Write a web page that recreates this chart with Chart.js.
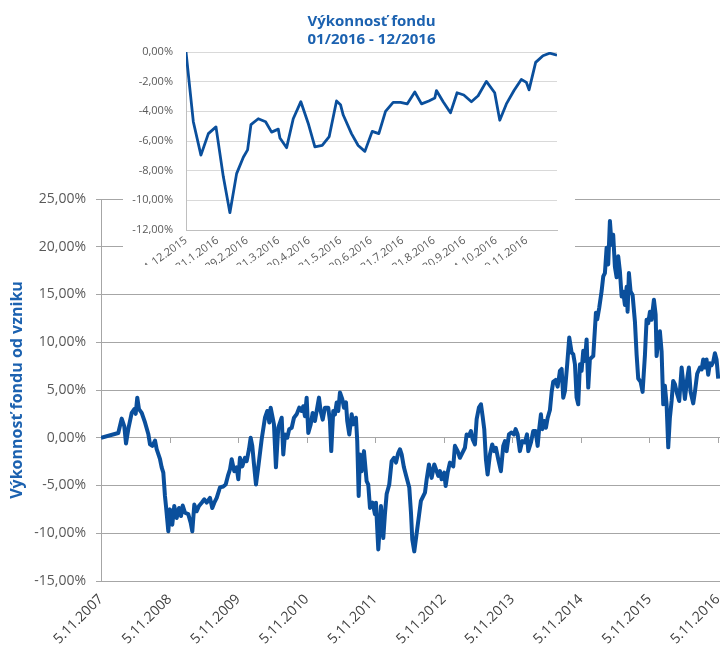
<!DOCTYPE html>
<html>
<head>
<meta charset="utf-8">
<script src="https://cdn.jsdelivr.net/npm/chart.js@4.4.1/dist/chart.umd.min.js"></script>
<style>
  html, body { margin: 0; padding: 0; background: #fff; }
  #wrap { position: relative; width: 720px; height: 649px; overflow: hidden; }
  #mainChart { position: absolute; left: 0; top: 0; }
  #insetChart { position: absolute; left: 123px; top: 0; background: #fff; }
</style>
</head>
<body>
<div id="wrap">
  <canvas id="mainChart" width="720" height="649"></canvas>
  <canvas id="insetChart" width="452" height="265"></canvas>
</div>
<script>
// Main chart: years since 5.11.2007 and performance in %
const mainYears = [
  0, 0.252, 0.302, 0.340, 0.365, 0.398, 0.448, 0.486, 0.506, 0.529, 0.554, 0.594, 0.642, 0.690, 0.715,
  0.748, 0.788, 0.812, 0.861, 0.885, 0.909, 0.933, 0.948, 0.982, 1.006, 1.040, 1.069, 1.104, 1.138, 1.167,
  1.192, 1.225, 1.273, 1.308, 1.332, 1.361, 1.396, 1.429, 1.469, 1.507, 1.542, 1.590, 1.623, 1.653, 1.688,
  1.736, 1.784, 1.819, 1.857, 1.882, 1.906, 1.944, 1.979, 2.003, 2.027, 2.061, 2.100, 2.125, 2.159, 2.183,
  2.207, 2.232, 2.261, 2.294, 2.344, 2.392, 2.426, 2.455, 2.475, 2.504, 2.523, 2.552, 2.586, 2.636, 2.659,
  2.684, 2.717, 2.746, 2.782, 2.815, 2.854, 2.892, 2.927, 2.951, 2.975, 3.000, 3.024, 3.059, 3.088, 3.121,
  3.146, 3.180, 3.204, 3.234, 3.267, 3.315, 3.340, 3.359, 3.388, 3.413, 3.438, 3.461, 3.486, 3.520, 3.544,
  3.574, 3.592, 3.622, 3.657, 3.680, 3.719, 3.738, 3.759, 3.778, 3.802, 3.836, 3.875, 3.899, 3.924, 3.963,
  3.996, 4.011, 4.045, 4.069, 4.084, 4.118, 4.142, 4.167, 4.205, 4.240, 4.274, 4.303, 4.336, 4.361, 4.386,
  4.419, 4.459, 4.497, 4.522, 4.541, 4.570, 4.605, 4.638, 4.667, 4.701, 4.726, 4.751, 4.784, 4.823, 4.862,
  4.896, 4.920, 4.945, 4.969, 5.007, 5.028, 5.057, 5.090, 5.139, 5.163, 5.203, 5.236, 5.270, 5.309, 5.334,
  5.368, 5.397, 5.421, 5.455, 5.480, 5.513, 5.543, 5.567, 5.591, 5.615, 5.640, 5.674, 5.707, 5.737, 5.761,
  5.795, 5.834, 5.868, 5.893, 5.917, 5.951, 5.990, 6.024, 6.049, 6.078, 6.111, 6.145, 6.184, 6.214, 6.233,
  6.272, 6.305, 6.340, 6.370, 6.389, 6.418, 6.437, 6.466, 6.491, 6.515, 6.549, 6.574, 6.597, 6.632, 6.661,
  6.680, 6.695, 6.720, 6.743, 6.768, 6.801, 6.831, 6.866, 6.889, 6.914, 6.938, 6.962, 6.987, 7.011, 7.035,
  7.059, 7.084, 7.108, 7.132, 7.157, 7.181, 7.220, 7.239, 7.268, 7.303, 7.327, 7.351, 7.376, 7.399, 7.424,
  7.449, 7.472, 7.497, 7.522, 7.545, 7.570, 7.595, 7.618, 7.643, 7.668, 7.682, 7.701, 7.726, 7.755, 7.789,
  7.814, 7.837, 7.872, 7.901, 7.935, 7.959, 7.983, 8.008, 8.032, 8.066, 8.091, 8.105, 8.129, 8.153, 8.178,
  8.202, 8.226, 8.251, 8.275, 8.299, 8.324, 8.347, 8.372, 8.406, 8.435, 8.470, 8.493, 8.518, 8.552, 8.576,
  8.601, 8.639, 8.664, 8.697, 8.737, 8.762, 8.785, 8.810, 8.834, 8.858, 8.883, 8.908, 8.931, 8.956, 8.980,
  9.004
];
const mainValues = [
  0, 0.5, 2.0, 1.2, -0.6, 0.9, 2.6, 3.0, 2.5, 4.2, 3.0, 2.6, 1.6, 0.4, -0.7,
  -0.85, -0.3, -1.2, -2.25, -3.1, -3.65, -6.1, -7.15, -9.8, -7.5, -9.1, -7.15, -8.4, -7.35, -8.2,
  -7.1, -7.85, -8.0, -8.9, -9.8, -7.0, -7.7, -7.15, -6.8, -6.45, -6.8, -6.3, -7.35, -6.8, -6.3,
  -5.2, -5.1, -4.9, -3.85, -3.3, -2.25, -3.5, -3.1, -4.35, -2.1, -3.0, -2.1, -2.45, -1.2, 0.0,
  -0.85, -2.8, -4.9, -3.1, -0.15, 2.1, 2.8, 1.6, 3.15, 2.1, 1.4, -3.1, 1.05, 2.1, -1.75,
  0.35, 0, 0.9, 1.05, 2.1, 2.45, 3.15, 2.8, 3.3, 2.25, 4.2, 0.5, 1.4, 2.6, 1.75,
  2.8, 4.2, 2.8, 1.9, 3.15, 3.15, 1.75, -1.4, 2.8, 2.45, 3.7, 2.8, 4.75, 4.05, 3.15,
  3.7, 1.75, 0.35, 2.45, 1.4, 2.1, -0.35, -6.1, -1.75, -3.5, -1.4, -4.55, -4.9, -7.35, -6.8,
  -8.0, -6.8, -11.7, -9.1, -7.15, -10.5, -8.0, -5.9, -4.9, -2.45, -2.1, -2.6, -1.6, -1.2, -1.75,
  -3.1, -4.2, -5.2, -7.85, -10.65, -11.9, -10.0, -8.2, -6.6, -6.1, -5.75, -4.35, -2.8, -4.2, -2.8,
  -3.5, -4.0, -3.5, -4.35, -3.65, -5.05, -3.65, -2.6, -3.0, -0.85, -1.4, -2.1, -1.6, -1.05, 0.35,
  0.2, 0.7, -0.15, -0.7, 1.95, 3.15, 3.5, 2.25, 0.9, -2.25, -3.85, -1.75, -0.7, -1.4, -1.05,
  -2.25, -3.5, -0.85, -0.35, -1.4, 0.35, 0.55, 0.35, 0.9, 0.35, -1.4, -0.35, -0.5, 0.35, -1.4,
  -0.5, 0.7, 0.7, -0.85, 0.7, 2.45, 0.9, 1.75, 1.05, 2.05, 2.9, 4.8, 5.85, 6.05, 5.35,
  6.25, 7.0, 7.2, 4.2, 4.9, 7.7, 10.5, 8.9, 8.75, 7.7, 4.2, 3.5, 7.7, 7.0, 9.1,
  8.05, 10.3, 5.25, 8.2, 8.4, 8.55, 13.1, 12.4, 13.6, 15.35, 16.9, 17.25, 19.9, 18.15, 22.7,
  20.2, 21.25, 17.9, 16.8, 19.0, 17.4, 14.8, 15.3, 13.9, 15.8, 13.2, 17.25, 15.3, 14.95, 12.15,
  8.65, 6.2, 5.85, 4.8, 8.65, 12.35, 12.0, 13.2, 12.35, 14.45, 12.9, 8.55, 10.1, 11.15, 9.05,
  3.5, 5.45, 3.5, -1.0, 2.1, 3.85, 5.95, 5.6, 4.55, 3.85, 7.35, 5.8, 4.05, 6.2, 7.35,
  4.8, 3.6, 4.8, 6.7, 7.35, 7.15, 8.2, 7.35, 8.2, 6.6, 7.8, 7.6, 7.95, 8.85, 8.2,
  6.2
];
const mainTickLabels = ['5.11.2007', '5.11.2008', '5.11.2009', '5.11.2010', '5.11.2011',
  '5.11.2012', '5.11.2013', '5.11.2014', '5.11.2015', '5.11.2016'];

// Inset: days since 31.12.2015 and performance in %
const insetDays = [
  0, 7.2, 14.7, 22.0, 29.5, 36.7, 43.2, 49.8, 56.4, 60.6, 63.9, 71.1, 78.3, 84.2, 90.8,
  92.4, 99.0, 105.5, 113.0, 120.2, 126.8, 134.0, 140.9, 148.1, 152.0, 154.7, 162.8, 169.4, 176.0, 183.2,
  189.7, 196.3, 203.8, 211.0, 217.6, 225.1, 231.7, 238.9, 244.8, 246.4, 253.0, 260.2, 266.7, 273.3, 280.8,
  287.4, 295.5, 303.7, 308.7, 315.2, 322.7, 329.9, 334.9, 337.5, 344.0, 351.2, 357.8, 365.0
];
const insetValues = [
  0, -4.7, -6.95, -5.5, -5.05, -8.4, -10.83, -8.2, -7.1, -6.6, -4.9, -4.5, -4.7, -5.4, -5.2,
  -5.8, -6.45, -4.5, -3.35, -4.8, -6.4, -6.3, -5.7, -3.3, -3.55, -4.25, -5.5, -6.3, -6.7, -5.35,
  -5.5, -4.0, -3.4, -3.4, -3.5, -2.7, -3.5, -3.3, -3.1, -2.6, -3.35, -4.1, -2.75, -2.9, -3.35,
  -2.95, -1.98, -2.75, -4.6, -3.5, -2.6, -1.85, -2.05, -2.55, -0.7, -0.25, -0.08, -0.22
];
const insetTickDays = [0, 31, 60, 91, 121, 152, 182, 213, 244, 274, 305, 335];
const insetTickLabels = ['31.12.2015', '31.1.2016', '29.2.2016', '31.3.2016', '30.4.2016', '31.5.2016',
  '30.6.2016', '31.7.2016', '31.8.2016', '30.9.2016', '31.10.2016', '30.11.2016'];

const family = "'Open Sans', sans-serif";
const lineBlue = '#0a4f9c';
const titleBlue = '#1c62b0';
const pct = v => v.toFixed(2).replace('.', ',') + '%';

// small tick marks on the 0 % line (x axis crosses there)
const zeroTicks = {
  id: 'zeroTicks',
  beforeDatasetsDraw(chart) {
    const { ctx, scales: { x, y } } = chart;
    const y0 = Math.round(y.getPixelForValue(0));
    ctx.save();
    ctx.strokeStyle = '#a6a6a6';
    ctx.lineWidth = 1;
    x.ticks.slice(1).forEach(t => {
      const px = Math.round(x.getPixelForValue(t.value)) + 0.5;
      ctx.beginPath();
      ctx.moveTo(px, y0);
      ctx.lineTo(px, y0 + 5);
      ctx.stroke();
    });
    ctx.restore();
  }
};

new Chart(document.getElementById('mainChart'), {
  type: 'line',
  data: {
    datasets: [{
      data: mainYears.map((x, i) => ({ x: x, y: mainValues[i] })),
      borderColor: lineBlue,
      borderWidth: 4,
      pointRadius: 0,
      tension: 0,
      borderJoinStyle: 'round'
    }]
  },
  options: {
    responsive: false,
    animation: false,
    devicePixelRatio: 1,
    layout: { padding: { top: 199, left: 0, right: 0, bottom: 0 } },
    plugins: { legend: { display: false }, tooltip: { enabled: false } },
    scales: {
      x: {
        type: 'linear',
        min: 0,
        max: 9.03,
        afterBuildTicks: s => { s.ticks = mainTickLabels.map((_, i) => ({ value: i })); },
        ticks: {
          callback: (v, i) => mainTickLabels[i],
          autoSkip: false,
          minRotation: 45,
          maxRotation: 45,
          padding: 10,
          color: '#404040',
          font: { family: family, size: 14 }
        },
        grid: { display: false, drawTicks: false },
        border: { display: false },
        afterFit: s => { s.height = 68; s.paddingLeft = 0; s.paddingRight = 0; }
      },
      y: {
        min: -15,
        max: 25,
        ticks: {
          stepSize: 5,
          callback: v => pct(v),
          padding: 10,
          color: '#595959',
          font: { family: family, size: 14 }
        },
        grid: { color: '#a6a6a6', tickLength: 5 },
        border: { color: '#a6a6a6' },
        title: {
          display: true,
          text: 'Výkonnosť fondu od vzniku',
          color: titleBlue,
          font: { family: family, size: 16, weight: 'bold' },
          padding: { top: 8, bottom: 0 }
        },
        afterFit: s => { s.width = 101; }
      }
    }
  },
  plugins: [zeroTicks]
});

new Chart(document.getElementById('insetChart'), {
  type: 'line',
  data: {
    datasets: [{
      data: insetDays.map((x, i) => ({ x: x, y: insetValues[i] })),
      borderColor: lineBlue,
      borderWidth: 2.8,
      pointRadius: 0,
      tension: 0,
      borderJoinStyle: 'round'
    }]
  },
  options: {
    responsive: false,
    animation: false,
    devicePixelRatio: 1,
    layout: { padding: { top: 0, left: 0, right: 18, bottom: 0 } },
    plugins: {
      legend: { display: false },
      tooltip: { enabled: false },
      title: {
        display: true,
        fullSize: false,
        text: ['Výkonnosť fondu', '01/2016 - 12/2016'],
        color: titleBlue,
        font: { family: family, size: 15, weight: 'bold', lineHeight: 1.2 },
        padding: { top: 13, bottom: 3 }
      }
    },
    scales: {
      x: {
        type: 'linear',
        min: 0,
        max: 365,
        afterBuildTicks: s => { s.ticks = insetTickDays.map(d => ({ value: d })); },
        ticks: {
          callback: (v, i) => insetTickLabels[i],
          autoSkip: false,
          minRotation: 36,
          maxRotation: 36,
          padding: 4,
          color: '#595959',
          font: { family: family, size: 11 }
        },
        grid: { display: false, drawTicks: false },
        border: { color: '#bfbfbf' },
        afterFit: s => { s.height = 35; s.paddingLeft = 0; s.paddingRight = 0; }
      },
      y: {
        min: -12,
        max: 0,
        ticks: {
          stepSize: 2,
          callback: v => pct(v),
          padding: 13,
          color: '#595959',
          font: { family: family, size: 11 }
        },
        grid: { color: '#d9d9d9', drawTicks: false },
        border: { color: '#bfbfbf' },
        afterFit: s => { s.width = 63; }
      }
    }
  }
});
</script>
</body>
</html>
